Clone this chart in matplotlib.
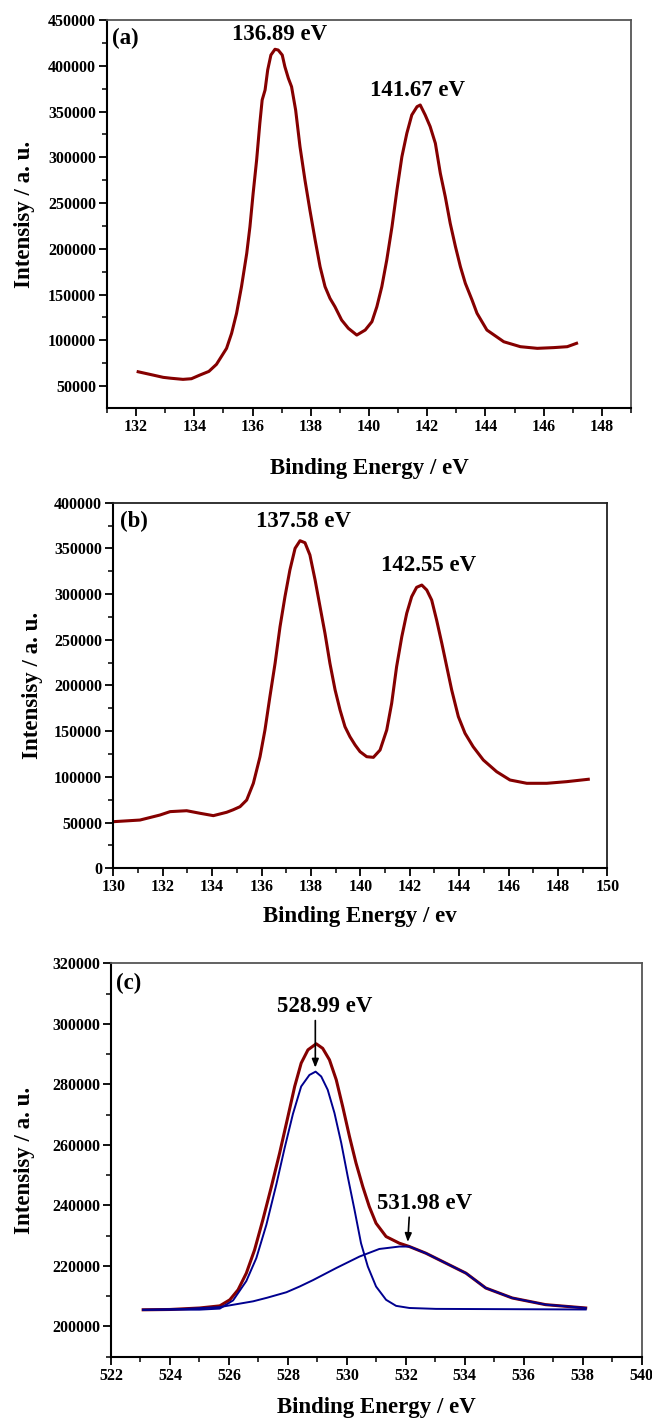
import matplotlib
matplotlib.use("Agg")
import matplotlib.pyplot as plt
from matplotlib.ticker import MultipleLocator

# ---------------- data ----------------
# (a)
x_a = [132.07, 132.58, 132.93, 133.20, 133.61, 133.90, 134.19, 134.50, 134.76, 135.107,
       135.28, 135.45, 135.62, 135.80, 135.91, 136.02, 136.14, 136.25, 136.33, 136.43,
       136.52, 136.63, 136.77, 136.88, 137.02, 137.11, 137.23, 137.34, 137.48, 137.63,
       137.80, 137.97, 138.15, 138.32, 138.49, 138.66, 138.83, 139.06, 139.29, 139.58,
       139.87, 140.10, 140.27, 140.44, 140.61, 140.79, 140.96, 141.13, 141.30, 141.47,
       141.65, 141.76, 141.93, 142.10, 142.28, 142.45, 142.62, 142.79, 142.97, 143.14,
       143.31, 143.54, 143.71, 144.05, 144.63, 145.20, 145.78, 146.35, 146.81, 147.13]
y_a = [65600, 62000, 59500, 58500, 57300, 58000, 62000, 66000, 73700, 91200,
       107600, 129400, 158600, 195000, 224100, 260600, 297000, 337100, 362600, 373500,
       395400, 411700, 418000, 417200, 411700, 399000, 386300, 377100, 351600, 311500,
       275100, 242300, 209600, 180400, 158600, 145800, 136700, 122100, 113100, 105700,
       111200, 120300, 136700, 158600, 187700, 224100, 264200, 300600, 326200, 346200,
       355300, 357100, 346200, 333600, 315200, 282500, 256900, 227800, 202300, 180400,
       162200, 144000, 129500, 111200, 98400, 93000, 91200, 92000, 93000, 96700]

# (b)
x_b = [130.00, 131.08, 131.89, 132.30, 132.97, 133.51, 134.05, 134.59, 134.85, 135.13,
       135.40, 135.67, 135.94, 136.14, 136.34, 136.55, 136.75, 136.95, 137.15, 137.36,
       137.56, 137.76, 137.96, 138.17, 138.37, 138.57, 138.77, 138.98, 139.18, 139.38,
       139.58, 139.79, 139.99, 140.26, 140.53, 140.80, 141.07, 141.27, 141.47, 141.68,
       141.88, 142.08, 142.28, 142.49, 142.69, 142.89, 143.09, 143.30, 143.50, 143.70,
       143.97, 144.24, 144.57, 144.98, 145.52, 146.06, 146.74, 147.55, 148.36, 149.23]
y_b = [51000, 52800, 58300, 62000, 63000, 60200, 57600, 61300, 64000, 67400,
       74700, 93000, 122100, 151300, 187700, 224300, 264300, 297200, 326400, 350100,
       358400, 356200, 342800, 315400, 286200, 257100, 224300, 195100, 173200, 154900,
       144000, 134900, 127600, 122100, 121400, 129400, 151300, 180500, 220600, 253400,
       279000, 297200, 307400, 309900, 304500, 293500, 271600, 246200, 220600, 195100,
       165900, 147700, 133000, 118500, 105700, 96600, 93000, 93000, 94800, 97400]

# (c) envelope and two fitted components
x_c_env = [523.09, 524.00, 525.01, 525.69, 526.03, 526.31, 526.59, 526.87, 527.15, 527.44,
           527.72, 528.00, 528.23, 528.45, 528.68, 528.96, 529.18, 529.41, 529.64, 529.86,
           530.09, 530.31, 530.54, 530.76, 530.99, 531.33, 531.78, 532.12, 532.68, 533.36,
           534.04, 534.71, 535.61, 536.74, 538.10]
y_c_env = [205500, 205600, 206100, 206800, 208800, 212100, 217600, 225300, 235200, 246200,
           257300, 269300, 279300, 287000, 291400, 293400, 291900, 288100, 281500, 272600,
           262700, 254000, 246200, 239600, 234100, 229700, 227500, 226400, 224200, 220900,
           217600, 212700, 209400, 207200, 206100]

x_c_p1 = [523.09, 525.00, 525.69, 526.14, 526.59, 526.93, 527.27, 527.61, 527.89, 528.17,
          528.45, 528.73, 528.94, 529.13, 529.35, 529.58, 529.81, 530.03, 530.26, 530.48,
          530.71, 530.99, 531.33, 531.67, 532.12, 533.02, 538.10]
y_c_p1 = [205500, 205550, 205900, 208600, 215000, 222600, 233600, 247000, 259000, 270200,
          279300, 283100, 284200, 282600, 278200, 270500, 260600, 249500, 238500, 227500,
          219800, 213200, 208800, 206800, 206100, 205800, 205600]

x_c_p2 = [523.09, 524.50, 525.69, 526.82, 527.30, 527.95, 528.40, 528.85, 529.64, 530.43,
          531.10, 531.78, 532.12, 532.68, 533.36, 534.04, 534.71, 535.61, 536.74, 538.10]
y_c_p2 = [205500, 205800, 206400, 208300, 209500, 211300, 213200, 215300, 219300, 223100,
          225600, 226400, 226400, 224200, 220900, 217600, 212700, 209400, 207200, 206100]

# ---------------- style ----------------
W, H = 652, 1419
DPI = 100
plt.rcParams['font.family'] = ['Liberation Serif', 'DejaVu Serif']
plt.rcParams['font.weight'] = 'bold'
plt.rcParams['axes.labelweight'] = 'bold'

RED = '#850000'
BLUE = '#00008f'
TICK_FS = 11.5
LABEL_FS = 16.5
ANN_FS = 16.5

fig = plt.figure(figsize=(W / DPI, H / DPI), dpi=DPI)


def make_axes(l, t, r, b):
    return fig.add_axes([l / W, 1 - b / H, (r - l) / W, (b - t) / H])


def style(ax, xmaj, ymaj, ymin_step, edge='#555555'):
    ax.xaxis.set_major_locator(MultipleLocator(xmaj))
    ax.xaxis.set_minor_locator(MultipleLocator(xmaj / 2))
    ax.yaxis.set_major_locator(MultipleLocator(ymaj))
    ax.yaxis.set_minor_locator(MultipleLocator(ymin_step))
    ax.tick_params(which='major', direction='out', length=6, width=1.3,
                   labelsize=TICK_FS, top=False, right=False, pad=2)
    ax.tick_params(which='minor', direction='out', length=3.5, width=1.1,
                   top=False, right=False)
    for lab in ax.get_xticklabels() + ax.get_yticklabels():
        lab.set_fontweight('bold')
    for s in ['left', 'bottom']:
        ax.spines[s].set_linewidth(1.5)
        ax.spines[s].set_color('black')
    for s in ['top', 'right']:
        ax.spines[s].set_linewidth(1.3)
        ax.spines[s].set_color(edge)


def labels(ax, xl, ylx, xly):
    ax.set_xlabel(xl, fontsize=LABEL_FS, fontweight='bold')
    ax.set_ylabel('Intensisy / a. u.', fontsize=LABEL_FS, fontweight='bold')
    pos = ax.get_position()
    ax.yaxis.set_label_coords(ylx / W, (pos.y0 + pos.y1) / 2, transform=fig.transFigure)
    ax.xaxis.set_label_coords((pos.x0 + pos.x1) / 2, 1 - xly / H, transform=fig.transFigure)


def ann(ax, x, y, s):
    ax.text(x, y, s, fontsize=ANN_FS, fontweight='bold', ha='center', va='center')


# ---- (a)
ax1 = make_axes(107, 20, 631, 408)
ax1.plot(x_a, y_a, color=RED, lw=2.2)
ax1.set_xlim(131, 149)
ax1.set_ylim(26000, 450000)
style(ax1, 2, 50000, 25000)
ax1.set_xticks(range(132, 149, 2))
labels(ax1, 'Binding Energy / eV', 35, 458)
ann(ax1, 131.64, 430300, '(a)')
ann(ax1, 136.94, 434700, '136.89 eV')
ann(ax1, 141.67, 373500, '141.67 eV')

# ---- (b)
ax2 = make_axes(113.3, 502.7, 607.3, 868.3)
ax2.plot(x_b, y_b, color=RED, lw=2.2)
ax2.set_xlim(130, 150)
ax2.set_ylim(0, 400000)
style(ax2, 2, 50000, 25000, edge='#222222')
labels(ax2, 'Binding Energy / ev', 43, 906)
ann(ax2, 130.84, 379200, '(b)')
ann(ax2, 137.70, 379200, '137.58 eV')
ann(ax2, 142.78, 331800, '142.55 eV')

# ---- (c)
ax3 = make_axes(111, 963.3, 641.7, 1356.7)
ax3.plot(x_c_env, y_c_env, color=RED, lw=2.2)
ax3.plot(x_c_p1, y_c_p1, color=BLUE, lw=1.4)
ax3.plot(x_c_p2, y_c_p2, color=BLUE, lw=1.4)
ax3.set_xlim(522, 540)
ax3.set_ylim(190000, 320000)
style(ax3, 2, 20000, 10000)
labels(ax3, 'Binding Energy / eV', 35, 1397)
ann(ax3, 522.61, 313500, '(c)')
ann(ax3, 529.24, 305700, '528.99 eV')
ann(ax3, 532.65, 240750, '531.98 eV')
ax3.annotate('', xy=(528.93, 284600), xytext=(528.93, 302000),
             arrowprops=dict(arrowstyle='-|>,head_length=0.5,head_width=0.2', color='black', lw=1.2))
ax3.annotate('', xy=(532.06, 227000), xytext=(532.12, 237000),
             arrowprops=dict(arrowstyle='-|>,head_length=0.5,head_width=0.2', color='black', lw=1.2))

fig.savefig('out.png', dpi=DPI)
